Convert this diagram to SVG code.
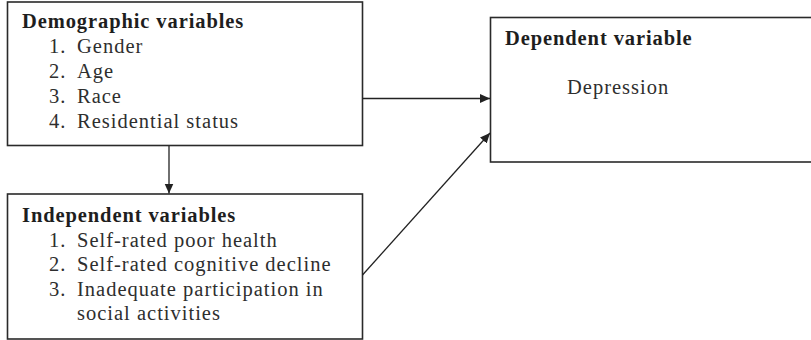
<svg xmlns="http://www.w3.org/2000/svg" width="811" height="340" viewBox="0 0 811 340">
<defs>
<style>
.box{fill:#fff;stroke:#2a2a2a;stroke-width:1.6}
.edge{fill:none;stroke:#222;stroke-width:1.3}
text{font-family:"Liberation Serif","Times New Roman",serif;font-size:20.5px;fill:#2e2e2e;letter-spacing:1px}
.h{font-weight:bold;fill:#1e1e1e;letter-spacing:0.9px}
</style>
<marker id="ah" viewBox="0 0 10 10" refX="10" refY="5" markerWidth="10" markerHeight="10" markerUnits="userSpaceOnUse" orient="auto">
<path d="M0,0.5 L10,5 L0,9.5 z" fill="#222"/>
</marker>
</defs>
<rect width="811" height="340" fill="#fff"/>
<g id="demographic">
<rect class="box" x="7.5" y="2" width="355" height="143.5"/>
<text class="h" x="22" y="28">Demographic variables</text>
<text x="49" y="53">1.</text><text x="77" y="53">Gender</text>
<text x="49" y="78">2.</text><text x="77" y="78">Age</text>
<text x="49" y="103">3.</text><text x="77" y="103">Race</text>
<text x="49" y="128">4.</text><text x="77" y="128">Residential status</text>
</g>
<g id="independent">
<rect class="box" x="7.5" y="194" width="355" height="145"/>
<text class="h" x="22" y="222">Independent variables</text>
<text x="49" y="247">1.</text><text x="77" y="247">Self-rated poor health</text>
<text x="49" y="271">2.</text><text x="77" y="271">Self-rated cognitive decline</text>
<text x="49" y="296">3.</text><text x="77" y="296">Inadequate participation in</text>
<text x="77" y="320">social activities</text>
</g>
<g id="dependent">
<rect class="box" x="490.5" y="17.5" width="340" height="144.5"/>
<text class="h" x="505" y="45">Dependent variable</text>
<text x="567" y="94">Depression</text>
</g>
<g id="connectors">
<line class="edge" x1="169" y1="146" x2="169" y2="193.5" marker-end="url(#ah)"/>
<line class="edge" x1="362.5" y1="98.5" x2="490" y2="98.5" marker-end="url(#ah)"/>
<line class="edge" x1="362.5" y1="275" x2="490" y2="133" marker-end="url(#ah)"/>
</g>
</svg>
